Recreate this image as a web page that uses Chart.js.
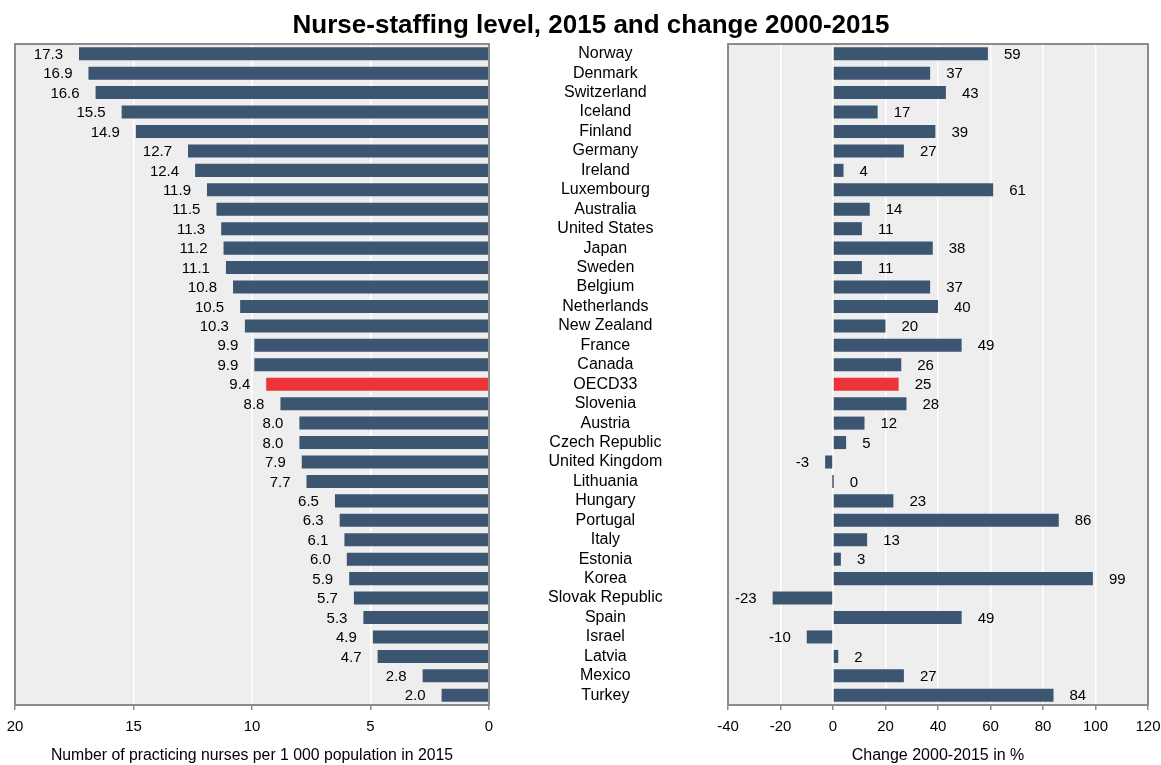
<!DOCTYPE html>
<html>
<head>
<meta charset="utf-8">
<script src="https://cdn.jsdelivr.net/npm/chart.js@4/dist/chart.umd.min.js"></script>
<style>
  html, body { margin: 0; padding: 0; background: #fff; }
  #wrap { position: relative; width: 1161px; height: 765px; overflow: hidden; }
  #title {
    position: absolute; left: 0; top: 11px; width: 1182px; text-align: center;
    font: bold 26px "Liberation Sans", Arial, sans-serif; line-height: 26px; color: #000;
  }
  #leftBox { position: absolute; left: 0; top: 0; width: 700px; height: 765px; }
  #rightBox { position: absolute; left: 700px; top: 0; width: 461px; height: 765px; }
</style>
</head>
<body>
<div id="wrap">
  <div id="leftBox"><canvas id="leftChart" width="700" height="765"></canvas></div>
  <div id="rightBox"><canvas id="rightChart" width="461" height="765"></canvas></div>
  <div id="title">Nurse-staffing level, 2015 and change 2000-2015</div>
</div>
<script>
const countries = ['Norway', 'Denmark', 'Switzerland', 'Iceland', 'Finland', 'Germany', 'Ireland',
    'Luxembourg', 'Australia', 'United States', 'Japan', 'Sweden', 'Belgium', 'Netherlands',
    'New Zealand', 'France', 'Canada', 'OECD33', 'Slovenia', 'Austria', 'Czech Republic',
    'United Kingdom', 'Lithuania', 'Hungary', 'Portugal', 'Italy', 'Estonia', 'Korea',
    'Slovak Republic', 'Spain', 'Israel', 'Latvia', 'Mexico', 'Turkey'];

const nurses2015 = [17.3, 16.9, 16.6, 15.5, 14.9, 12.7, 12.4, 11.9, 11.5, 11.3, 11.2, 11.1, 10.8,
    10.5, 10.3, 9.9, 9.9, 9.4, 8.8, 8.0, 8.0, 7.9, 7.7, 6.5, 6.3, 6.1, 6.0, 5.9, 5.7, 5.3, 4.9,
    4.7, 2.8, 2.0];

const change2000_2015 = [59, 37, 43, 17, 39, 27, 4, 61, 14, 11, 38, 11, 37, 40, 20, 49, 26, 25,
    28, 12, 5, -3, 0, 23, 86, 13, 3, 99, -23, 49, -10, 2, 27, 84];

const leftTicks = [0, 5, 10, 15, 20];
const rightTicks = [-40, -20, 0, 20, 40, 60, 80, 100, 120];

const BAR_COLOR = '#3c5571';
const HIGHLIGHT = '#ee3338';
const PLOT_BG = '#edeeed';
const FRAME = '#8c8c8c';
const FONT = '"Liberation Sans", Arial, sans-serif';

const barColors = countries.map(c => c === 'OECD33' ? HIGHLIGHT : BAR_COLOR);

// plot background, frame and value labels
const plotDecor = {
    id: 'plotDecor',
    beforeDraw(chart) {
        const { ctx, chartArea: a } = chart;
        ctx.save();
        ctx.fillStyle = PLOT_BG;
        ctx.fillRect(a.left, a.top, a.right - a.left, a.bottom - a.top);
        ctx.restore();
    },
    afterDatasetsDraw(chart, args, opts) {
        const { ctx } = chart;
        const meta = chart.getDatasetMeta(0);
        const data = chart.data.datasets[0].data;
        ctx.save();
        ctx.font = '15px ' + FONT;
        ctx.fillStyle = '#000';
        ctx.textBaseline = 'middle';
        meta.data.forEach((bar, i) => {
            const v = data[i];
            const text = opts.decimals ? v.toFixed(1) : String(v);
            let leftwards = bar.x < bar.base;
            if (v === 0) leftwards = false;
            if (leftwards) {
                ctx.textAlign = 'right';
                ctx.fillText(text, Math.min(bar.x, bar.base) - 16, bar.y + 1);
            } else {
                ctx.textAlign = 'left';
                ctx.fillText(text, Math.max(bar.x, bar.base) + 16, bar.y + 1);
            }
        });
        ctx.restore();
    },
    afterDraw(chart) {
        const { ctx, chartArea: a } = chart;
        ctx.save();
        ctx.strokeStyle = FRAME;
        ctx.lineWidth = 2;
        ctx.strokeRect(a.left, a.top, a.right - a.left, a.bottom - a.top);
        ctx.restore();
    }
};

function xAxis(min, max, step, reverse, title, titleSize) {
    return {
        type: 'linear',
        min: min,
        max: max,
        reverse: reverse,
        afterFit: (scale) => {
            scale.height = 60;
            scale.paddingLeft = 0;
            scale.paddingRight = 0;
        },
        afterBuildTicks: (scale) => {
            const list = reverse ? leftTicks : rightTicks;
            scale.ticks = list.map(v => ({ value: v }));
        },
        ticks: {
            stepSize: step,
            color: '#000',
            font: { size: 15, family: FONT },
            padding: 8,
            maxRotation: 0
        },
        grid: {
            color: '#ffffff',
            lineWidth: 1.5,
            tickColor: FRAME,
            tickLength: 5,
            tickWidth: 1.5
        },
        border: { display: false },
        title: {
            display: true,
            text: title,
            color: '#000',
            font: { size: titleSize, family: FONT },
            padding: { top: 0, bottom: 0 }
        }
    };
}

new Chart(document.getElementById('leftChart'), {
    type: 'bar',
    data: {
        labels: countries,
        datasets: [{
            data: nurses2015,
            backgroundColor: barColors,
            borderWidth: 0,
            barPercentage: 0.67,
            categoryPercentage: 1
        }]
    },
    options: {
        indexAxis: 'y',
        responsive: false,
        animation: false,
        devicePixelRatio: 1,
        layout: { padding: { left: 15, top: 44, right: 0, bottom: 0 } },
        plugins: {
            legend: { display: false },
            tooltip: { enabled: false },
            plotDecor: { decimals: true }
        },
        scales: {
            x: xAxis(0, 20, 5, true, 'Number of practicing nurses per 1 000 population in 2015', 15.8),
            y: {
                position: 'right',
                afterFit: (scale) => {
                    scale.width = 211;
                    scale.paddingTop = 0;
                    scale.paddingBottom = 0;
                },
                ticks: {
                    color: '#000',
                    font: { size: 16, family: FONT },
                    crossAlign: 'center',
                    padding: 59,
                    autoSkip: false
                },
                grid: { display: false, drawTicks: false },
                border: { display: false }
            }
        }
    },
    plugins: [plotDecor]
});

new Chart(document.getElementById('rightChart'), {
    type: 'bar',
    data: {
        labels: countries,
        datasets: [{
            data: change2000_2015,
            backgroundColor: barColors,
            borderWidth: 0,
            minBarLength: 1.5,
            barPercentage: 0.67,
            categoryPercentage: 1
        }]
    },
    options: {
        indexAxis: 'y',
        responsive: false,
        animation: false,
        devicePixelRatio: 1,
        layout: { padding: { left: 28, top: 44, right: 13, bottom: 0 } },
        plugins: {
            legend: { display: false },
            tooltip: { enabled: false },
            plotDecor: { decimals: false }
        },
        scales: {
            x: xAxis(-40, 120, 20, false, 'Change 2000-2015 in %', 16),
            y: { display: false }
        }
    },
    plugins: [plotDecor]
});
</script>
</body>
</html>
